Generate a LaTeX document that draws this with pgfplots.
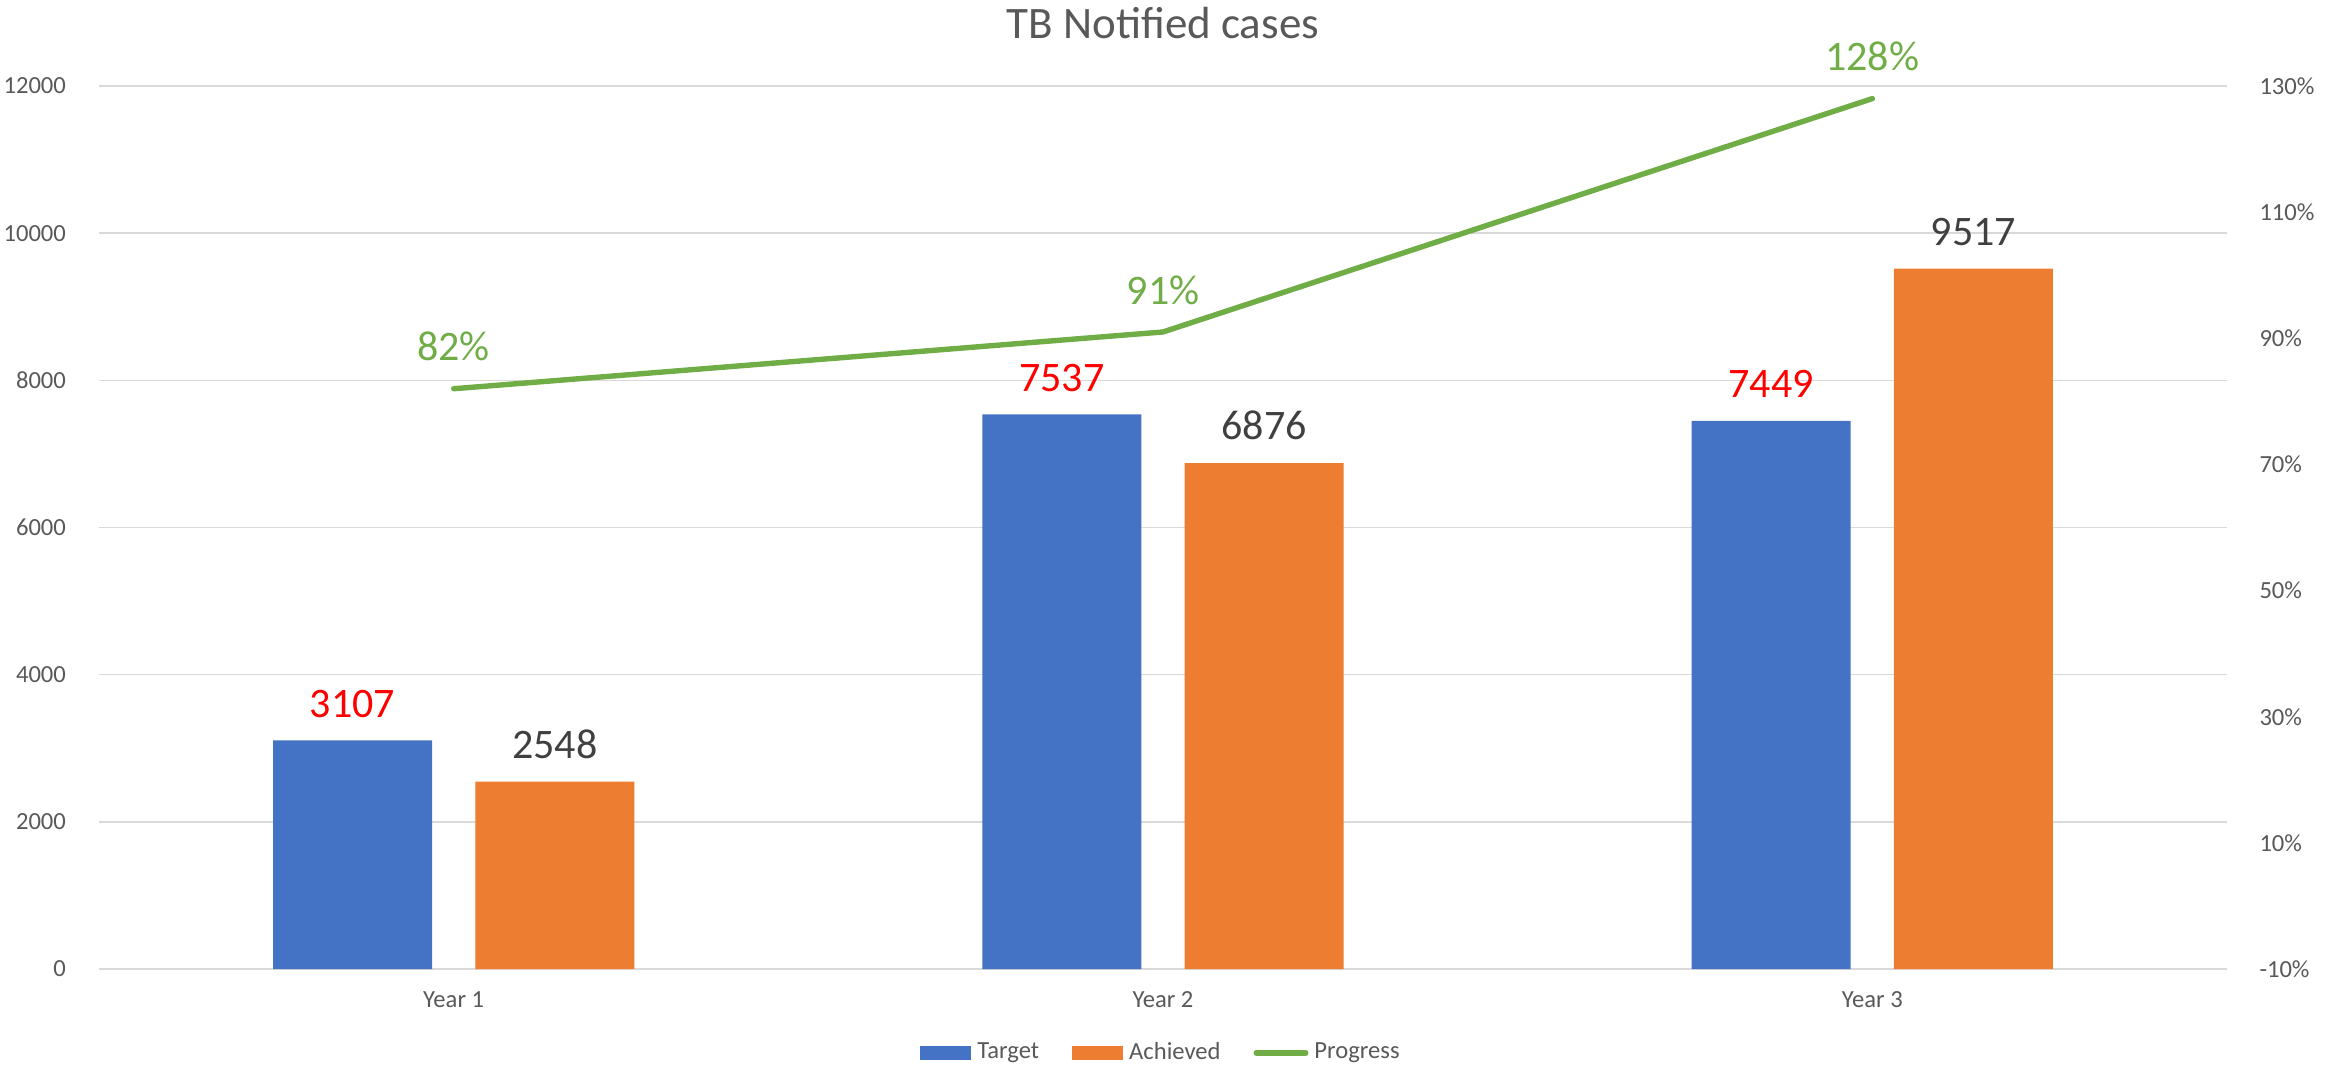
\documentclass[border=0pt]{standalone}
\usepackage{pgfplots}
\pgfplotsset{compat=1.18}
\usepackage{fontspec}
\setmainfont{Carlito}
\definecolor{cBlue}{HTML}{4472C4}
\definecolor{cOrange}{HTML}{ED7D31}
\definecolor{cGreen}{HTML}{70AD47}
\definecolor{cRed}{HTML}{FF0000}
\definecolor{cDark}{HTML}{404040}
\definecolor{cTick}{HTML}{595959}
\definecolor{cGrid}{HTML}{D9D9D9}
\begin{document}
\begin{tikzpicture}
\path[use as bounding box] (-33pt,-32.67pt) rectangle (743pt,323pt);
\pgfplotsset{
  common/.style={
    scale only axis, width=709.33pt, height=294.33pt,
    at={(0,0)}, anchor=south west,
    xmin=-0.5, xmax=2.5, clip=false,
    axis line style={draw=none}, major tick length=0pt,
    scaled ticks=false,
    /pgf/number format/assume math mode=true,
    /pgf/number format/1000 sep={},
    tick label style={font=\fontsize{8.2}{10}\selectfont, text=cTick},
  }
}
\begin{axis}[common,
  ymin=0, ymax=12000, ytick={0,2000,...,12000},
  ymajorgrids, grid style={cGrid, line width=0.5pt},
  yticklabel style={anchor=east, xshift=-7.5pt},
  xtick={0,1,2}, xticklabels={Year 1,Year 2,Year 3},
  xticklabel style={anchor=base, yshift=-12.7pt},
  ybar, bar width=53pt,
  legend style={at={(0.5,-28pt)}, anchor=center, draw=none, fill=none,
    legend columns=-1, font=\fontsize{8.2}{10}\selectfont, text=cTick,
    /tikz/every even column/.append style={column sep=9pt},
    inner sep=0pt},
  legend cell align=left,
]
\addplot[fill=cBlue, draw=none, bar shift=-33.7pt,
  nodes near coords,
  every node near coord/.append style={font=\fontsize{14}{16}\selectfont, text=cRed, anchor=base, yshift=7.7pt, inner sep=0pt},
  legend image code/.code={\fill[cBlue] (0pt,-2.4pt) rectangle (17pt,2.4pt);}]
  coordinates {(0,3107) (1,7537) (2,7449)};
\addlegendentry{Target}
\addplot[fill=cOrange, draw=none, bar shift=33.7pt,
  nodes near coords,
  every node near coord/.append style={font=\fontsize{14}{16}\selectfont, text=cDark, anchor=base, yshift=7.7pt, inner sep=0pt},
  legend image code/.code={\fill[cOrange] (0pt,-2.4pt) rectangle (17pt,2.4pt);}]
  coordinates {(0,2548) (1,6876) (2,9517)};
\addlegendentry{Achieved}
\addlegendimage{legend image code/.code={\draw[cGreen, line width=1.8pt, line cap=round] (0.5pt,0pt) -- (17pt,0pt);}}
\addlegendentry{Progress}
\node[anchor=base, font=\fontsize{15}{18}\selectfont, text=cTick] at (rel axis cs:0.5,1) [yshift=15.7pt] {TB Notified cases};
\end{axis}
\begin{axis}[common,
  ymin=-10, ymax=130, ytick={-10,10,...,130},
  axis y line*=right, axis x line=none,
  yticklabel={\pgfmathprintnumber{\tick}\%},
  yticklabel style={anchor=west, xshift=7.3pt},
]
\addplot[cGreen, line width=1.8pt, line cap=round, line join=round, mark=none,
  nodes near coords={\pgfmathprintnumber{\pgfplotspointmeta}\%},
  every node near coord/.append style={font=\fontsize{14}{16}\selectfont, text=cGreen, anchor=base, yshift=9.3pt, inner sep=0pt}]
  coordinates {(0,82) (1,91) (2,128)};
\end{axis}
\end{tikzpicture}
\end{document}
